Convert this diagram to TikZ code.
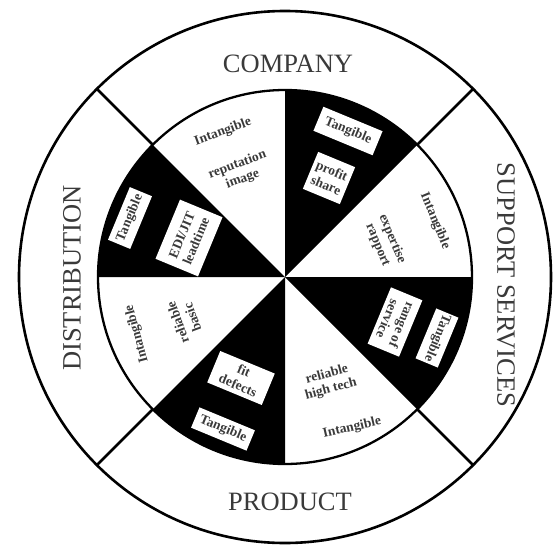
\documentclass[tikz,border=0pt]{standalone}
\usepackage{fontspec}
\setmainfont{Liberation Serif}
\definecolor{ink}{HTML}{3A3A3A}
\begin{document}
\begin{tikzpicture}[x=1pt,y=1pt,
  rim/.style={line width=2.6pt, draw=black},
  ringtitle/.style={font=\fontsize{26.5}{26.5}\selectfont, text=ink},
  facet/.style={font=\bfseries\fontsize{13.5}{15.5}\selectfont, text=ink, align=center, inner sep=0pt},
  tag/.style={facet, fill=white}
]
\useasboundingbox (-285,-267) rectangle (274,277);
\def\rin{187}
\def\rout{266}

% inner wheel: white base, four black sectors, outline
\fill[white] (0,0) circle[radius=\rin];
\foreach \a in {45,135,225,315}
  \fill[black] (0,0) -- (\a:\rin) arc[start angle=\a, end angle=\a+45, radius=\rin] -- cycle;
\draw[rim, line width=2.3pt] (0,0) circle[radius=\rin];

% outer ring and its four dividers
\draw[rim] (0,0) circle[radius=\rout];
\foreach \a in {45,135,225,315}
  \draw[rim] (\a:\rin) -- (\a:\rout);

% ring titles
\node[ringtitle] (company) at (3,213) {COMPANY};
\node[ringtitle] (product) at (5,-225) {PRODUCT};
\node[ringtitle, rotate=90] (distribution) at (-213,-1) {DISTRIBUTION};
\node[ringtitle, rotate=-90] (support) at (221,-8) {SUPPORT SERVICES};

% company: intangible / tangible
\node[facet, rotate=20] (ci) at (-62,145) {Intangible};
\node[facet, rotate=20] (cr) at (-45,105) {reputation\\image};
\node[tag, minimum width=64pt, minimum height=26pt, rotate=-22.5] (ct) at (63,146) {Tangible};
\node[tag, minimum width=40pt, minimum height=40pt, rotate=-22.5] (cp) at (44,99) {profit\\share};

% support services
\node[facet, rotate=-67.5] (si) at (150,56) {Intangible};
\node[facet, rotate=-67.5] (se) at (100,35) {expertise\\rapport};
\node[tag, minimum width=61pt, minimum height=34pt, rotate=-112.5] (sr) at (110,-45) {range of\\service};
\node[tag, minimum width=54pt, minimum height=24pt, rotate=-112.5] (st) at (152,-61) {Tangible};

% product
\node[facet, rotate=15] (ph) at (44,-105) {reliable\\high tech};
\node[facet, rotate=13] (pi) at (67,-151) {Intangible};
\node[tag, minimum width=59pt, minimum height=34pt, rotate=-22.5] (pf) at (-44,-101) {fit\\defects};
\node[tag, minimum width=60pt, minimum height=22pt, rotate=-22.5] (pt) at (-62,-152) {Tangible};

% distribution
\node[facet, rotate=105] (di) at (-148,-57) {Intangible};
\node[facet, rotate=110] (db) at (-100,-43) {reliable\\basic};
\node[tag, minimum width=64pt, minimum height=46pt, rotate=67.5] (de) at (-96,39) {EDI/JIT\\leadtime};
\node[tag, minimum width=57pt, minimum height=24pt, rotate=67.5] (dt) at (-155,59) {Tangible};
\end{tikzpicture}
\end{document}
